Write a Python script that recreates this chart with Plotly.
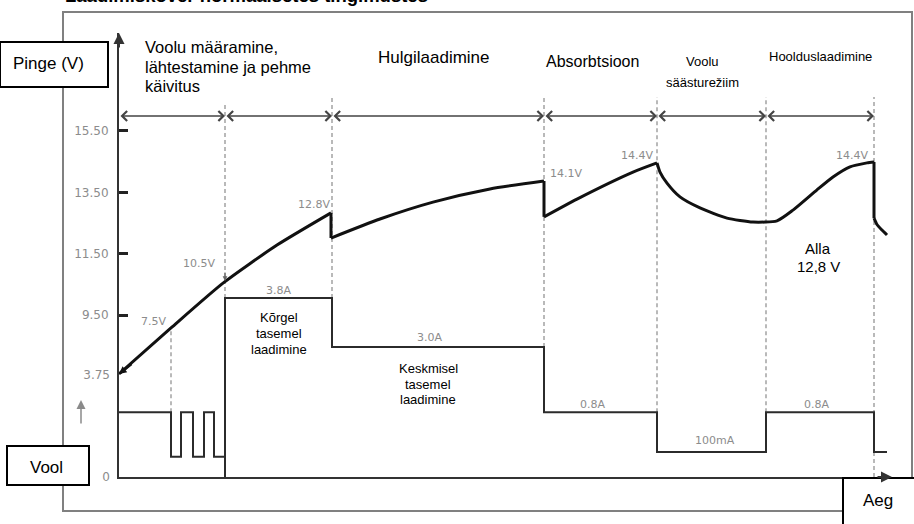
import plotly.graph_objects as go

# ---------------- data ----------------
# time axis is schematic (arbitrary units)
phase_bounds = [0, 106, 213, 425, 538, 647, 755]
phase_titles = [
    ["Voolu määramine,", "lähtestamine ja pehme", "käivitus"],
    ["Hulgilaadimine"],
    ["Absorbtsioon"],
    ["Voolu", "säästurežiim"],
    ["Hoolduslaadimine"],
]

# voltage curve, in volts, split where the curve jumps
v1_t = [0, 52, 104, 158, 212]
v1 = [7.58, 9.08, 10.54, 11.78, 12.83]
v2_t = [212, 261, 314, 371, 425]
v2 = [12.01, 12.63, 13.18, 13.61, 13.87]
v3_t = [425, 458, 514, 538]
v3 = [12.70, 13.28, 14.16, 14.46]
v4_t = [538, 541, 548, 561, 581, 608, 634, 658, 674, 698, 714, 731, 748, 755]
v4 = [14.46, 14.16, 13.80, 13.35, 12.99, 12.66, 12.53, 12.57, 12.92, 13.58, 14.00, 14.33, 14.46, 14.49]
v5_t = [755, 758, 763, 768]
v5 = [12.66, 12.45, 12.27, 12.11]

volt_labels = ["7.5V", "10.5V", "12.8V", "14.1V", "14.4V", "14.4V"]

# current waveform (schematic level on the current scale)
cur_t = [0, 52, 62, 74, 85, 95, 106, 106, 213, 425, 538, 647, 755, 768]
cur_lvl = [2.38, 0.74, 2.38, 0.74, 2.38, 0.74, 0.0, 6.58, 4.78, 2.38, 0.92, 2.38, 0.92, 0.92]
cur_labels = ["3.8A", "3.0A", "0.8A", "100mA", "0.8A"]
cur_label_lvl = [6.58, 4.78, 2.38, 0.92, 2.38]

# dashed guide lines (time, bottom level, top level) on the current scale
guide_t = [52, 106, 213, 425, 538, 647, 755]
guide_bottom = [2.38, 6.58, 6.58, 4.78, 2.38, 2.38, 0.0]
guide_top = [5.48, 13.68, 13.97, 13.97, 13.97, 13.97, 13.97]

volt_tickvals = [9.5, 11.5, 13.5, 15.5]
volt_ticktext = ["9.50", "11.50", "13.50", "15.50"]
cur_tickvals = [0, 3.75]
cur_ticktext = ["0", "3.75"]

# ---------------- layout constants ----------------
W, H = 914, 524
PL, PR, PT, PB = 119, 892, 33, 477
ARIAL = "Liberation Sans, Arial, sans-serif"
SMALL = "DejaVu Sans, sans-serif"
GREY = "#8c8c8c"
PHASE_Y = 13.27  # level of the phase arrows on the current scale


def fx(px):
    return (px - PL) / (PR - PL)


def fy(py):
    return (PB - py) / (PB - PT)


fig = go.Figure()

# dashed guides (current scale)
gx, gy = [], []
for t, b, top in zip(guide_t, guide_bottom, guide_top):
    gx += [t, t, None]
    gy += [b, top, None]
fig.add_trace(go.Scatter(x=gx, y=gy, mode="lines", hoverinfo="skip",
                         line=dict(color="#a3a3a3", width=1.5, dash="4px,3px")))

# current
fig.add_trace(go.Scatter(x=cur_t, y=cur_lvl, mode="lines", hoverinfo="skip",
                         line=dict(color="#2b2b2b", width=2, shape="hv")))

# voltage (overlay axis, drawn on top)
segments = [(v1_t, v1), (v2_t, v2), (v3_t, v3), (v4_t, v4), (v5_t, v5)]
for t, v in segments:
    fig.add_trace(go.Scatter(x=t, y=v, yaxis="y2", mode="lines", hoverinfo="skip",
                             line=dict(color="#111111", width=3, shape="spline", smoothing=0.6)))
dx, dy = [], []
for (ta, va), (tb, vb) in zip(segments[:-1], segments[1:]):
    if ta[-1] == tb[0] and va[-1] != vb[0]:
        dx += [ta[-1], tb[0], None]
        dy += [va[-1], vb[0], None]
fig.add_trace(go.Scatter(x=dx, y=dy, yaxis="y2", mode="lines", hoverinfo="skip",
                         line=dict(color="#111111", width=3)))

ann = []


def txt(text, px, py, size, family=ARIAL, color="black", xanchor="center", yanchor="middle"):
    ann.append(dict(text=text, xref="paper", yref="paper", x=fx(px), y=fy(py), showarrow=False,
                    font=dict(family=family, size=size, color=color), xanchor=xanchor, yanchor=yanchor))


# phase arrows
for a, b in zip(phase_bounds[:-1], phase_bounds[1:]):
    ann.append(dict(text="", x=b, y=PHASE_Y, ax=a, ay=PHASE_Y, xref="x", yref="y", axref="x", ayref="y",
                    showarrow=True, arrowside="end+start", arrowhead=4, startarrowhead=4,
                    arrowsize=1.3, startarrowsize=1.3, arrowwidth=1.5, arrowcolor="#444444", standoff=0))

# phase titles
PHASE_TXT = [(143, [47, 67, 86], 16.5, "left"), (434, [58], 17, "center"), (592, [61], 16, "center"),
             (702, [61, 83], 13, "center"), (820, [56], 13, "center")]
for lines, (px, pys, size, anchor) in zip(phase_titles, PHASE_TXT):
    for line, py in zip(lines, pys):
        txt(line, px, py, size, xanchor=anchor)

# voltage value labels: anchor point, xanchor, xshift, yshift
volt_pts = [(v1_t[1], v1[1]), (v1_t[2], v1[2]), (v1_t[-1], v1[-1]), (v2_t[-1], v2[-1]),
            (v3_t[-1], v3[-1]), (v4_t[-1], v4[-1])]
VL_POS = [("right", -3, 6), ("right", -6, 20), ("right", 1, 8), ("left", 4, 7), ("right", -2, 7), ("right", -4, 6)]
for lab, (t, v), (xa, xs, ys) in zip(volt_labels, volt_pts, VL_POS):
    ann.append(dict(text=lab, x=t, y=v, xref="x", yref="y2", showarrow=False, xanchor=xa, yanchor="middle",
                    xshift=xs, yshift=ys, font=dict(family=SMALL, size=11, color=GREY)))

# current value labels
CL_SHIFT = [(0, 7), (-9, 9), (-8, 8), (3, 11), (-4, 8)]
for i, (lab, lvl, (xs, ys)) in enumerate(zip(cur_labels, cur_label_lvl, CL_SHIFT)):
    a, b = phase_bounds[i + 1], phase_bounds[i + 2]
    ann.append(dict(text=lab, x=(a + b) / 2, y=lvl, xref="x", yref="y", showarrow=False,
                    xanchor="center", yanchor="middle", xshift=xs, yshift=ys,
                    font=dict(family=SMALL, size=11, color=GREY)))

# region texts
for lines, px, pys, size in [
    (["Kõrgel", "tasemel", "laadimine"], 279, [317, 333, 349], 13),
    (["Keskmisel", "tasemel", "laadimine"], 428, [368, 384, 399], 13),
    (["Alla", "12,8 V"], 818, [248, 266], 15),
]:
    for line, py in zip(lines, pys):
        txt(line, px, py, size)

# arrow on 10.5V guide
ann.append(dict(text="", x=v1_t[2] + 2, y=v1[2], xref="x", yref="y2", ax=0, ay=-12, showarrow=True,
                arrowhead=2, arrowsize=0.8, arrowwidth=1.2, arrowcolor="#666666", standoff=2))
# arrow at curve start
ann.append(dict(text="", x=v1_t[0], y=v1[0], xref="x", yref="y2", ax=14, ay=-11, showarrow=True,
                arrowhead=2, arrowsize=0.6, arrowwidth=2.5, arrowcolor="#111111", standoff=0))

# axis arrows
ann.append(dict(text="", x=0, y=1, xref="paper", yref="paper", ax=0, ay=16, showarrow=True,
                arrowhead=2, arrowsize=1.1, arrowwidth=2, arrowcolor="#333333", standoff=0))
ann.append(dict(text="", x=1, y=0, xref="paper", yref="paper", ax=-16, ay=0, showarrow=True,
                arrowhead=2, arrowsize=1.1, arrowwidth=2, arrowcolor="#333333", standoff=0))
# small grey up arrow near current scale
ann.append(dict(text="", x=fx(81), y=fy(400), xref="paper", yref="paper", ax=0, ay=25, showarrow=True,
                arrowhead=2, arrowsize=1.2, arrowwidth=1.5, arrowcolor="#8a8a8a", standoff=0))

# title (cut off at the top edge, as in the reference)
txt("<b>Laadimiskõver normaalsetes tingimustes</b>", 63, -4.5, 18.5, xanchor="left")

shapes = []
# outer frame
shapes.append(dict(type="rect", xref="paper", yref="paper", x0=fx(63), x1=fx(912), y0=fy(511), y1=fy(12),
                   line=dict(color="#808080", width=2), layer="below"))
# framed labels
for label, (x0, y0, x1, y1), (cx, cy) in [
    ("Pinge (V)", (0, 42, 108, 87), (48, 64)),
    ("Vool", (7, 446, 89, 485), (46, 467)),
    ("Aeg", (843, 478, 918, 528), (878, 501)),
]:
    shapes.append(dict(type="rect", xref="paper", yref="paper", x0=fx(x0), x1=fx(x1), y0=fy(y1), y1=fy(y0),
                       line=dict(color="black", width=2), fillcolor="white", layer="above"))
    txt(label, cx, cy, 17)

fig.update_layout(
    width=W, height=H, margin=dict(l=PL, r=W - PR, t=PT, b=H - PB, pad=0),
    paper_bgcolor="white", plot_bgcolor="white", showlegend=False,
    xaxis=dict(range=[0, PR - PL], showline=True, linecolor="#333333", linewidth=2,
               showticklabels=False, ticks="", showgrid=False, zeroline=False, fixedrange=True),
    yaxis=dict(range=[0, 16.32], showline=False, ticks="", tickvals=cur_tickvals, ticktext=cur_ticktext,
               ticklabelstandoff=8, tickfont=dict(family=SMALL, size=12, color=GREY),
               showgrid=False, zeroline=False),
    yaxis2=dict(range=[4.218, 18.695], overlaying="y", side="left", anchor="x",
                showline=True, linecolor="#333333", linewidth=2,
                ticks="inside", ticklen=9, tickwidth=2.5, tickcolor="#222222",
                tickvals=volt_tickvals, ticktext=volt_ticktext, ticklabelstandoff=6,
                tickfont=dict(family=SMALL, size=12, color=GREY), showgrid=False, zeroline=False),
    annotations=ann, shapes=shapes,
)

fig.write_html("out.html", config={"displayModeBar": False},
               post_script="document.body.style.margin='0';document.body.style.overflow='hidden';")
